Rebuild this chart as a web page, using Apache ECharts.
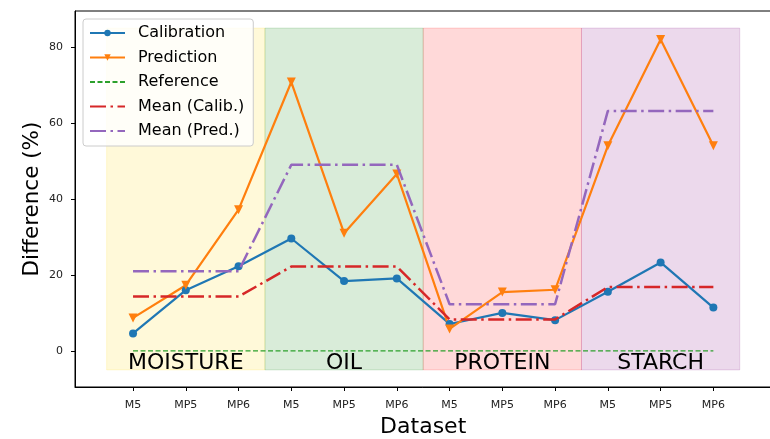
<!DOCTYPE html>
<html>
<head>
<meta charset="utf-8">
<script src="https://cdn.jsdelivr.net/npm/echarts@6/dist/echarts.min.js"></script>
<style>
  html, body { margin: 0; padding: 0; background: #fff; }
  #chart { width: 770px; height: 439px; }
</style>
</head>
<body>
<div id="chart"></div>
<script>
// Tick labels along the x axis (three datasets per property group)
const datasetLabels = ['M5', 'MP5', 'MP6', 'M5', 'MP5', 'MP6', 'M5', 'MP5', 'MP6', 'M5', 'MP5', 'MP6'];
const tickPositions = [0, 1, 2, 3, 4, 5, 6, 7, 8, 9, 10, 11];
const yTicks = [0, 20, 40, 60, 80];

// Property groups and their shaded spans along the x axis
const groupNames = ['MOISTURE', 'OIL', 'PROTEIN', 'STARCH'];
const groupStart = [-0.5, 2.5, 5.5, 8.5];
const groupEnd = [2.5, 5.5, 8.5, 11.5];
const bandBottom = -5;
const bandTop = 85;
const bandRGB = ['255,215,0', '0,128,0', '255,0,0', '128,0,128'];

// Difference (%) per dataset
const calibration = [4.6, 16.0, 22.3, 29.6, 18.4, 19.1, 7.1, 10.0, 8.1, 15.6, 23.3, 11.4];
const prediction = [8.7, 17.3, 37.2, 70.8, 31.0, 46.6, 5.8, 15.5, 16.1, 54.0, 82.0, 54.0];
const reference = [0, 0, 0, 0, 0, 0, 0, 0, 0, 0, 0, 0];
const meanCalib = [14.3, 14.3, 14.3, 22.2, 22.2, 22.2, 8.3, 8.3, 8.3, 16.8, 16.8, 16.8];
const meanPred = [21.0, 21.0, 21.0, 49.0, 49.0, 49.0, 12.3, 12.3, 12.3, 63.2, 63.2, 63.2];

const FONT = 'DejaVu Sans';
const pairs = arr => arr.map((v, i) => [tickPositions[i], v]);

const bands = groupNames.map((name, i) => [
  {
    name: name,
    xAxis: groupStart[i],
    yAxis: bandBottom,
    itemStyle: {
      color: 'rgba(' + bandRGB[i] + ',0.15)',
      borderColor: 'rgba(' + bandRGB[i] + ',0.15)',
      borderWidth: 1
    }
  },
  { xAxis: groupEnd[i], yAxis: bandTop }
]);

const chart = echarts.init(document.getElementById('chart'), null, { renderer: 'canvas' });

chart.setOption({
  animation: false,
  backgroundColor: '#ffffff',
  textStyle: { fontFamily: FONT },
  grid: {
    left: 75, top: 11, width: 696.4, height: 376,
    outerBoundsMode: 'none',
    containLabel: false,
    show: true, borderColor: '#000', borderWidth: 1, backgroundColor: 'transparent'
  },
  legend: {
    orient: 'vertical',
    left: 83, top: 19,
    padding: [6, 9, 7, 6],
    itemGap: 8.5,
    itemWidth: 35,
    itemHeight: 8,
    backgroundColor: 'rgba(255,255,255,0.8)',
    borderColor: '#cccccc',
    borderWidth: 1,
    borderRadius: 3,
    textStyle: { fontFamily: FONT, fontSize: 16, color: '#000', padding: [0, 0, 0, 8] },
    data: [
      'Calibration',
      'Prediction',
      { name: 'Reference', itemStyle: { opacity: 0 } },
      { name: 'Mean (Calib.)', itemStyle: { opacity: 0 } },
      { name: 'Mean (Pred.)', itemStyle: { opacity: 0 } }
    ]
  },
  xAxis: {
    type: 'value',
    min: -1.1, max: 12.1,
    name: 'Dataset',
    nameLocation: 'middle',
    nameGap: 29,
    nameMoveOverlap: false,
    nameTextStyle: { fontFamily: FONT, fontSize: 22, color: '#000' },
    axisLine: { show: true, onZero: false, lineStyle: { color: '#000', width: 1 } },
    axisTick: { show: true, length: 4, lineStyle: { color: '#000' }, customValues: tickPositions },
    axisLabel: {
      customValues: tickPositions,
      formatter: v => datasetLabels[Math.round(v)],
      fontFamily: FONT, fontSize: 11, color: '#222', margin: 13
    },
    splitLine: { show: false }
  },
  yAxis: {
    type: 'value',
    min: -9.5, max: 89.5,
    name: 'Difference (%)',
    nameLocation: 'middle',
    nameGap: 32,
    nameMoveOverlap: false,
    nameTextStyle: { fontFamily: FONT, fontSize: 21.5, color: '#000' },
    axisLine: { show: true, onZero: false, lineStyle: { color: '#000', width: 1 } },
    axisTick: { show: true, length: 4, lineStyle: { color: '#000' }, customValues: yTicks },
    axisLabel: {
      customValues: yTicks,
      fontFamily: FONT, fontSize: 11, color: '#222', margin: 12
    },
    splitLine: { show: false }
  },
  series: [
    {
      name: 'Groups',
      type: 'line',
      data: [],
      silent: true,
      z: 0,
      markArea: {
        silent: true,
        label: {
          show: true,
          position: 'insideBottom',
          distance: 0,
          offset: [0, 4],
          fontFamily: FONT,
          fontSize: 22,
          color: '#000'
        },
        data: bands
      }
    },
    {
      name: 'Calibration',
      type: 'line',
      data: pairs(calibration),
      color: '#1f77b4',
      lineStyle: { width: 2.2, color: '#1f77b4' },
      symbol: 'circle',
      symbolSize: 8,
      itemStyle: { color: '#1f77b4' },
      z: 3
    },
    {
      name: 'Prediction',
      type: 'line',
      data: pairs(prediction),
      color: '#ff7f0e',
      lineStyle: { width: 2.2, color: '#ff7f0e' },
      symbol: 'triangle',
      symbolRotate: 180,
      symbolSize: 9,
      itemStyle: { color: '#ff7f0e' },
      z: 3
    },
    {
      name: 'Reference',
      type: 'line',
      data: pairs(reference),
      color: '#2ca02c',
      lineStyle: { width: 1.2, color: '#2ca02c', type: [5, 2.5] },
      symbol: 'none',
      z: 3
    },
    {
      name: 'Mean (Calib.)',
      type: 'line',
      data: pairs(meanCalib),
      color: '#d62728',
      lineStyle: { width: 2.5, color: '#d62728', type: [16, 4.5, 2.5, 4.5] },
      symbol: 'none',
      z: 4
    },
    {
      name: 'Mean (Pred.)',
      type: 'line',
      data: pairs(meanPred),
      color: '#9467bd',
      lineStyle: { width: 2.5, color: '#9467bd', type: [16, 4.5, 2.5, 4.5] },
      symbol: 'none',
      z: 4
    }
  ]
});
</script>
</body>
</html>
